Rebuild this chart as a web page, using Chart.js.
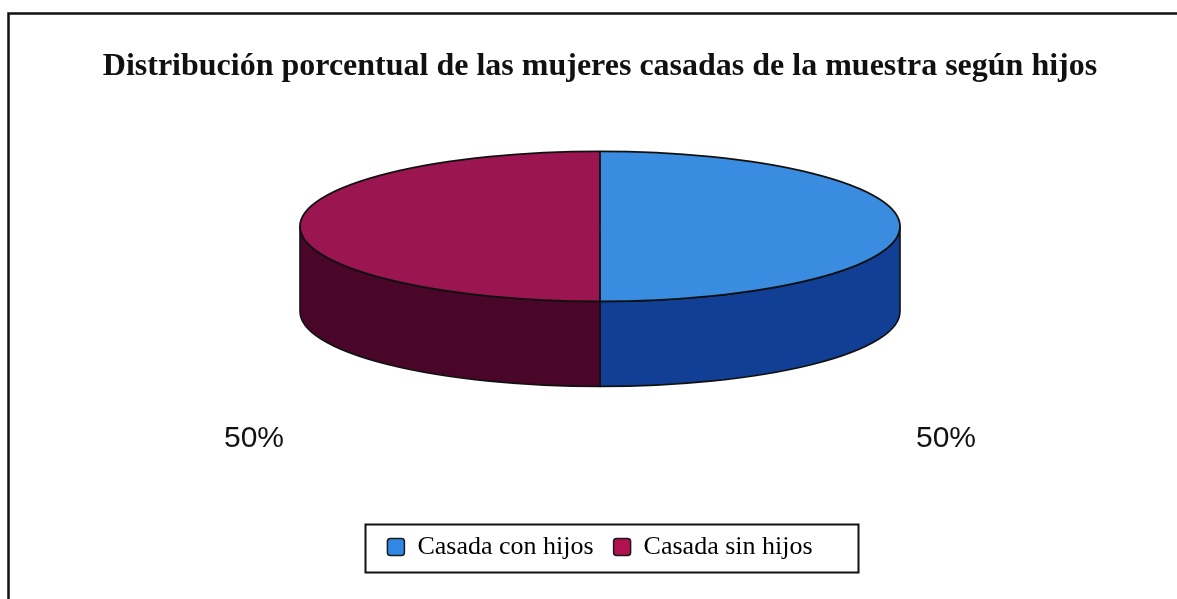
<!DOCTYPE html>
<html>
<head>
<meta charset="utf-8">
<script src="https://cdn.jsdelivr.net/npm/chart.js@4.4.1/dist/chart.umd.min.js"></script>
<style>
  html, body { margin: 0; padding: 0; background: #fff; overflow: hidden; }
  canvas { display: block; }
</style>
</head>
<body>
<canvas id="chart" width="1177" height="599"></canvas>
<script>
// Data
const categories = ['Casada con hijos', 'Casada sin hijos'];
const shares = [50, 50];
const topColors = ['#3a8ce0', '#9b1651'];
const sideColors = ['#103f95', '#4a0628'];
const legendColors = ['#3187e6', '#b0114f'];
const titleText = 'Distribución porcentual de las mujeres casadas de la muestra según hijos';

// 3D disc settings
const RADIUS = 300;   // horizontal radius of the disc
const TILT = 0.25;    // vertical squash of the top face
const DEPTH = 85;     // thickness of the disc
const LABEL_GAP = 46; // horizontal distance of percent labels from the rim
const LABEL_DROP = 52;

function discGeometry(chart) {
  const arcs = chart.getDatasetMeta(0).data;
  const a = arcs[0];
  const rx = a.outerRadius;
  const ry = rx * TILT;
  return { arcs, ax: a.x, ay: a.y, cx: a.x, cy: chart.chartArea.top + ry, rx, ry };
}

// front-facing part of an angle range (screen angles 0..PI face the viewer)
function frontPart(s, e) {
  const parts = [];
  for (let k = -2; k <= 2; k++) {
    const lo = Math.max(s, 2 * Math.PI * k);
    const hi = Math.min(e, Math.PI + 2 * Math.PI * k);
    if (hi > lo) parts.push([lo, hi]);
  }
  return parts;
}

const framePlugin = {
  id: 'frame',
  beforeDraw(chart) {
    const ctx = chart.ctx;
    ctx.save();
    ctx.fillStyle = '#ffffff';
    ctx.fillRect(0, 0, chart.width, chart.height);
    ctx.strokeStyle = '#111111';
    ctx.lineWidth = 2.5;
    ctx.strokeRect(8.5, 13.5, chart.width + 40, chart.height + 40);
    ctx.restore();
  }
};

const discPlugin = {
  id: 'disc3d',
  beforeDatasetsDraw(chart) {
    const ctx = chart.ctx;
    const g = discGeometry(chart);
    // side walls
    ctx.save();
    ctx.lineWidth = 1.6;
    ctx.strokeStyle = '#111111';
    ctx.lineJoin = 'round';
    g.arcs.forEach((arc, i) => {
      frontPart(arc.startAngle, arc.endAngle).forEach(([a0, a1]) => {
        ctx.beginPath();
        ctx.ellipse(g.cx, g.cy, g.rx, g.ry, 0, a0, a1, false);
        ctx.lineTo(g.cx + g.rx * Math.cos(a1), g.cy + g.ry * Math.sin(a1) + DEPTH);
        ctx.ellipse(g.cx, g.cy + DEPTH, g.rx, g.ry, 0, a1, a0, true);
        ctx.closePath();
        ctx.fillStyle = sideColors[i];
        ctx.fill();
        ctx.stroke();
      });
    });
    ctx.restore();
    // squash the pie slices into the top face
    ctx.save();
    ctx.translate(g.cx, g.cy);
    ctx.scale(1, TILT);
    ctx.translate(-g.ax, -g.ay);
  },
  afterDatasetsDraw(chart) {
    const ctx = chart.ctx;
    ctx.restore();
    const g = discGeometry(chart);
    ctx.save();
    ctx.lineWidth = 1.8;
    ctx.strokeStyle = '#111111';
    ctx.beginPath();
    ctx.ellipse(g.cx, g.cy, g.rx, g.ry, 0, 0, Math.PI * 2);
    ctx.stroke();
    g.arcs.forEach(arc => {
      ctx.beginPath();
      ctx.moveTo(g.cx, g.cy);
      ctx.lineTo(g.cx + g.rx * Math.cos(arc.startAngle), g.cy + g.ry * Math.sin(arc.startAngle));
      ctx.stroke();
    });
    // percent labels
    const total = shares.reduce((s, v) => s + v, 0);
    ctx.fillStyle = '#111111';
    ctx.font = '30px "Liberation Sans", Arial, sans-serif';
    ctx.textAlign = 'center';
    ctx.textBaseline = 'middle';
    g.arcs.forEach((arc, i) => {
      const mid = (arc.startAngle + arc.endAngle) / 2;
      const x = g.cx + Math.cos(mid) * (g.rx + LABEL_GAP);
      const y = g.cy + g.ry + DEPTH + LABEL_DROP;
      ctx.fillText(Math.round(shares[i] / total * 100) + '%', x, y);
    });
    ctx.restore();
  }
};

const legendFramePlugin = {
  id: 'legendFrame',
  afterDraw(chart) {
    const boxes = chart.legend.legendHitBoxes;
    if (!boxes || !boxes.length) return;
    const left = Math.min(...boxes.map(b => b.left)) - 22;
    const right = Math.max(...boxes.map(b => b.left + b.width)) + 46;
    const mid = boxes[0].top + boxes[0].height / 2;
    const ctx = chart.ctx;
    ctx.save();
    ctx.strokeStyle = '#111111';
    ctx.lineWidth = 2;
    ctx.strokeRect(Math.round(left) + 0.5, Math.round(mid - 23) + 0.5, Math.round(right - left), 48);
    ctx.restore();
  }
};

new Chart(document.getElementById('chart'), {
  type: 'pie',
  data: {
    labels: categories,
    datasets: [{
      data: shares,
      backgroundColor: topColors,
      borderWidth: 0
    }]
  },
  options: {
    responsive: false,
    animation: false,
    events: [],
    radius: RADIUS,
    layout: { padding: { top: 0, left: 23, right: 0, bottom: 29 } },
    plugins: {
      tooltip: { enabled: false },
      title: {
        display: true,
        text: titleText,
        color: '#111111',
        font: { family: '"Liberation Serif", "Times New Roman", serif', size: 32, weight: 'bold' },
        padding: { top: 48, bottom: 65 }
      },
      legend: {
        display: true,
        position: 'bottom',
        labels: {
          color: '#111111',
          font: { family: '"Liberation Serif", "Times New Roman", serif', size: 26 },
          boxWidth: 17,
          boxHeight: 17,
          padding: 20,
          useBorderRadius: true,
          borderRadius: 3,
          generateLabels: () => categories.map((name, i) => ({
            text: name,
            fillStyle: legendColors[i],
            strokeStyle: '#1a1a1a',
            lineWidth: 1.5,
            hidden: false,
            index: i,
            borderRadius: 3
          }))
        }
      }
    }
  },
  plugins: [framePlugin, discPlugin, legendFramePlugin]
});
</script>
</body>
</html>
